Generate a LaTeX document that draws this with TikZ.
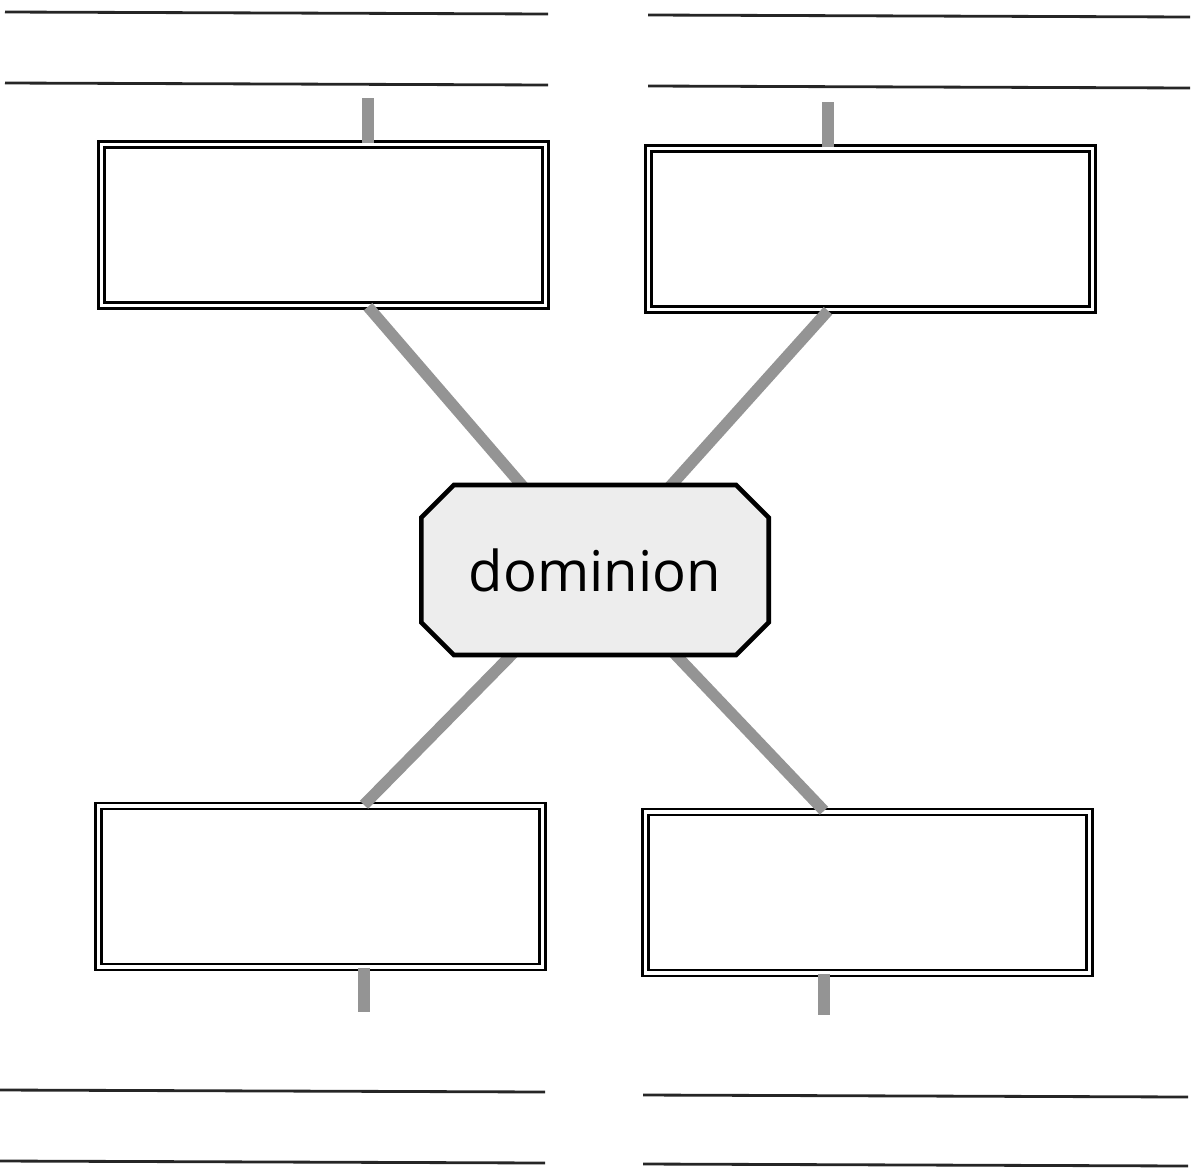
\documentclass[tikz,border=0pt]{standalone}
\usepackage{fontspec}
\setsansfont{Open Sans}
\usetikzlibrary{shapes.misc}

\begin{document}
\begin{tikzpicture}[x=0.02cm, y=-0.02cm]
	\tikzset{
		card/.style = {rectangle, draw, double, line width=1.4pt, double distance=2pt, minimum width=8.88cm, minimum height=3.22cm},
		hub/.style = {chamfered rectangle, chamfered rectangle xsep=0.6cm, draw, line width=2.6pt, fill=black!7, minimum width=6.95cm, minimum height=3.4cm, font=\sffamily\fontsize{32}{36}\selectfont},
		link/.style = {line width=6.5pt, black!42},
		rule/.style = {line width=1.6pt, black!85}
	}
	\useasboundingbox (0, 0) rectangle (1193, 1170);
	% writing lines
	\draw[rule] (5, 12) -- (548, 14) (5, 83) -- (548, 85);
	\draw[rule] (648, 15) -- (1190, 17) (648, 86) -- (1190, 88);
	\draw[rule] (0, 1090) -- (545, 1092) (0, 1161) -- (545, 1163);
	\draw[rule] (643, 1095) -- (1188, 1097) (643, 1164) -- (1188, 1166);
	% boxes
	\node[card] (tl) at (323.5, 225) {};
	\node[card] (tr) at (870.5, 229) {};
	\node[card] (bl) at (320.5, 886.5) {};
	\node[card] (br) at (867.5, 892.5) {};
	\coordinate (tltop) at (368, 98);
	\coordinate (trtop) at (828, 102);
	\coordinate (blbot) at (364, 1012);
	\coordinate (brbot) at (824, 1015);
	\coordinate (c) at (595, 570);
	% stubs and spokes
	\draw[link] (tl.north -| tltop) -- (tltop);
	\draw[link] (tr.north -| trtop) -- (trtop);
	\draw[link] (bl.south -| blbot) -- (blbot);
	\draw[link] (br.south -| brbot) -- (brbot);
	\draw[link] (tl.south -| tltop) -- (c);
	\draw[link] (tr.south -| trtop) -- (c);
	\draw[link] (bl.north -| blbot) -- (c);
	\draw[link] (br.north -| brbot) -- (c);
	\node[hub] (center) at (c) {dominion};
\end{tikzpicture}
\end{document}
